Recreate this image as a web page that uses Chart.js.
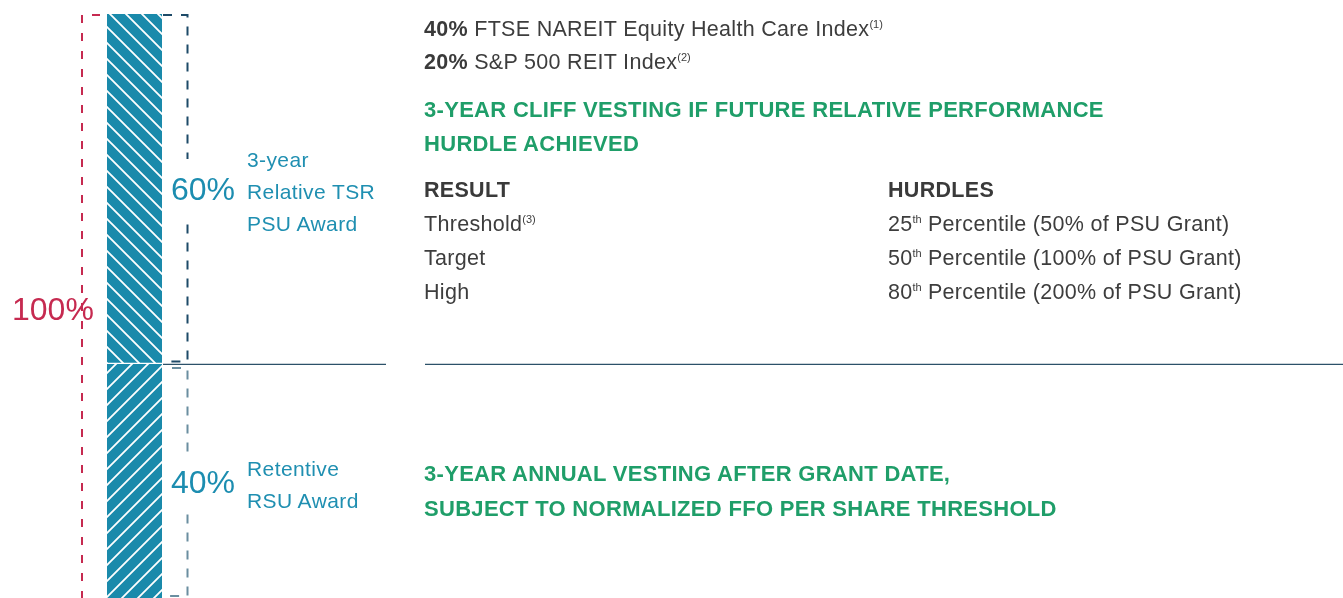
<!DOCTYPE html>
<html>
<head>
<meta charset="utf-8">
<script src="https://cdn.jsdelivr.net/npm/chart.js@4/dist/chart.umd.min.js"></script>
<style>
  html, body { margin: 0; padding: 0; background: #fff; }
  #wrap { position: relative; width: 1343px; height: 598px; overflow: hidden; font-family: "Liberation Sans", Arial, sans-serif; }
  #c { position: absolute; left: 0; top: 0; }
  .t { position: absolute; line-height: 1; white-space: nowrap; transform: translateY(-50%); }
  .big { font-size: 32px; color: #1c8db0; }
  .pad { background: #fff; padding: 14px 0 14px 0; }
  .red { color: #c62a50; }
  .lbl { font-size: 21px; color: #1f8fb1; letter-spacing: 0.4px; }
  .txt { font-size: 21.5px; color: #3d3d3d; letter-spacing: 0.3px; }
  .txt b { color: #3a3a3a; }
  .grn { font-size: 22px; color: #1f9e69; font-weight: bold; letter-spacing: 0.3px; }
  sup { font-size: 11px; vertical-align: 0; position: relative; top: -8px; letter-spacing: 0; }
</style>
</head>
<body>
<div id="wrap">
  <canvas id="c" width="1343" height="598"></canvas>
</div>
<script>
// ---- data ----
const categories = ['LTI Award'];
const segmentNames = ['Retentive RSU Award', '3-year Relative TSR PSU Award'];
const rsuShare = [40];
const psuShare = [60];
const totalShare = 100;
const indexWeights = ['40%', '20%'];
const indexNames = ['FTSE NAREIT Equity Health Care Index', 'S&amp;P 500 REIT Index'];
const resultLabels = ['Threshold', 'Target', 'High'];
const hurdlePercentiles = ['25', '50', '80'];
const hurdleGrants = ['50%', '100%', '200%'];

// ---- hatch patterns ----
function hatch(dir) {
  const T = 16;
  const cv = document.createElement('canvas');
  cv.width = T; cv.height = T;
  const g = cv.getContext('2d');
  g.fillStyle = '#1a8aab';
  g.fillRect(0, 0, T, T);
  g.strokeStyle = '#ffffff';
  g.lineWidth = 1.8;
  g.beginPath();
  if (dir === 'back') {
    g.moveTo(-2, -2); g.lineTo(T + 2, T + 2);
    g.moveTo(-2, T - 2); g.lineTo(2, T + 2);
    g.moveTo(T - 2, -2); g.lineTo(T + 2, 2);
  } else {
    g.moveTo(-2, T + 2); g.lineTo(T + 2, -2);
    g.moveTo(-2, 2); g.lineTo(2, -2);
    g.moveTo(T - 2, T + 2); g.lineTo(T + 2, T - 2);
  }
  g.stroke();
  return g.createPattern(cv, 'repeat');
}

const bracketPlugin = {
  id: 'brackets',
  afterDatasetsDraw(chart) {
    const ctx = chart.ctx;
    const y = chart.scales.y;
    const bar = chart.getDatasetMeta(0).data[0];
    const left = bar.x - bar.width / 2;
    const right = bar.x + bar.width / 2;
    const yTop = y.getPixelForValue(totalShare);
    const ySplit = y.getPixelForValue(rsuShare[0]);
    const yBot = y.getPixelForValue(0);
    ctx.save();
    ctx.lineWidth = 2;
    ctx.setLineDash([8, 10]);
    ctx.strokeStyle = '#c62a50';
    ctx.beginPath();
    ctx.moveTo(left - 7, yTop + 1);
    ctx.lineTo(left - 25, yTop + 1);
    ctx.lineTo(left - 25, yBot);
    ctx.stroke();
    ctx.strokeStyle = '#1d4a68';
    ctx.setLineDash([9, 9]);
    ctx.beginPath();
    ctx.moveTo(right + 1, yTop + 1);
    ctx.lineTo(right + 25.5, yTop + 1);
    ctx.lineTo(right + 25.5, ySplit - 3);
    ctx.lineTo(right + 3, ySplit - 3);
    ctx.stroke();
    ctx.strokeStyle = '#6a8ea0';
    ctx.beginPath();
    ctx.moveTo(right + 10, ySplit + 3.5);
    ctx.lineTo(right + 25.5, ySplit + 3.5);
    ctx.lineTo(right + 25.5, yBot - 2);
    ctx.lineTo(right + 4, yBot - 2);
    ctx.stroke();
    ctx.setLineDash([]);
    ctx.strokeStyle = '#2c5169';
    ctx.lineWidth = 1.4;
    ctx.beginPath();
    ctx.moveTo(right + 1, ySplit);
    ctx.lineTo(386, ySplit);
    ctx.moveTo(425, ySplit);
    ctx.lineTo(chart.width, ySplit);
    ctx.stroke();
    ctx.restore();
  }
};

new Chart(document.getElementById('c'), {
  type: 'bar',
  data: {
    labels: categories,
    datasets: [
      { label: segmentNames[0], data: rsuShare, backgroundColor: hatch('fwd'),
        borderWidth: 0, borderSkipped: false },
      { label: segmentNames[1], data: psuShare, backgroundColor: hatch('back'),
        borderColor: '#ffffff', borderWidth: { bottom: 2, top: 0, left: 0, right: 0 }, borderSkipped: false }
    ]
  },
  options: {
    responsive: false,
    animation: false,
    devicePixelRatio: 1,
    layout: { padding: { left: 107, right: 1181, top: 14, bottom: 0 } },
    datasets: { bar: { barPercentage: 1, categoryPercentage: 1 } },
    scales: {
      x: { stacked: true, display: false },
      y: { stacked: true, display: false, min: 0, max: totalShare }
    },
    plugins: { legend: { display: false }, tooltip: { enabled: false } }
  },
  plugins: [bracketPlugin]
});

// ---- text ----
const wrap = document.getElementById('wrap');
function put(html, cls, x, y) {
  const d = document.createElement('div');
  d.className = 't ' + cls;
  d.style.left = x + 'px';
  d.style.top = y + 'px';
  d.innerHTML = html;
  wrap.appendChild(d);
  return d;
}
put(totalShare + '%', 'big red', 12, 309);
put(psuShare[0] + '%', 'big pad', 171, 189);
put('3-year', 'lbl', 247, 159);
put('Relative TSR', 'lbl', 247, 191);
put('PSU Award', 'lbl', 247, 223);
put(rsuShare[0] + '%', 'big pad', 171, 482);
put('Retentive', 'lbl', 247, 468);
put('RSU Award', 'lbl', 247, 500);

put('<b>' + indexWeights[0] + '</b> ' + indexNames[0] + '<sup>(1)</sup>', 'txt', 424, 30);
put('<b>' + indexWeights[1] + '</b> ' + indexNames[1] + '<sup>(2)</sup>', 'txt', 424, 63);
put('3-YEAR CLIFF VESTING IF FUTURE RELATIVE PERFORMANCE', 'grn', 424, 110);
put('HURDLE ACHIEVED', 'grn', 424, 144);
put('<b>RESULT</b>', 'txt', 424, 191);
put('<b>HURDLES</b>', 'txt', 888, 191);
const rowY = [225, 259, 293];
resultLabels.forEach((r, i) => {
  put(r + (i === 0 ? '<sup>(3)</sup>' : ''), 'txt', 424, rowY[i]);
  put(hurdlePercentiles[i] + '<sup>th</sup> Percentile (' + hurdleGrants[i] + ' of PSU Grant)', 'txt', 888, rowY[i]);
});
put('3-YEAR ANNUAL VESTING AFTER GRANT DATE,', 'grn', 424, 474);
put('SUBJECT TO NORMALIZED FFO PER SHARE THRESHOLD', 'grn', 424, 509);
</script>
</body>
</html>
